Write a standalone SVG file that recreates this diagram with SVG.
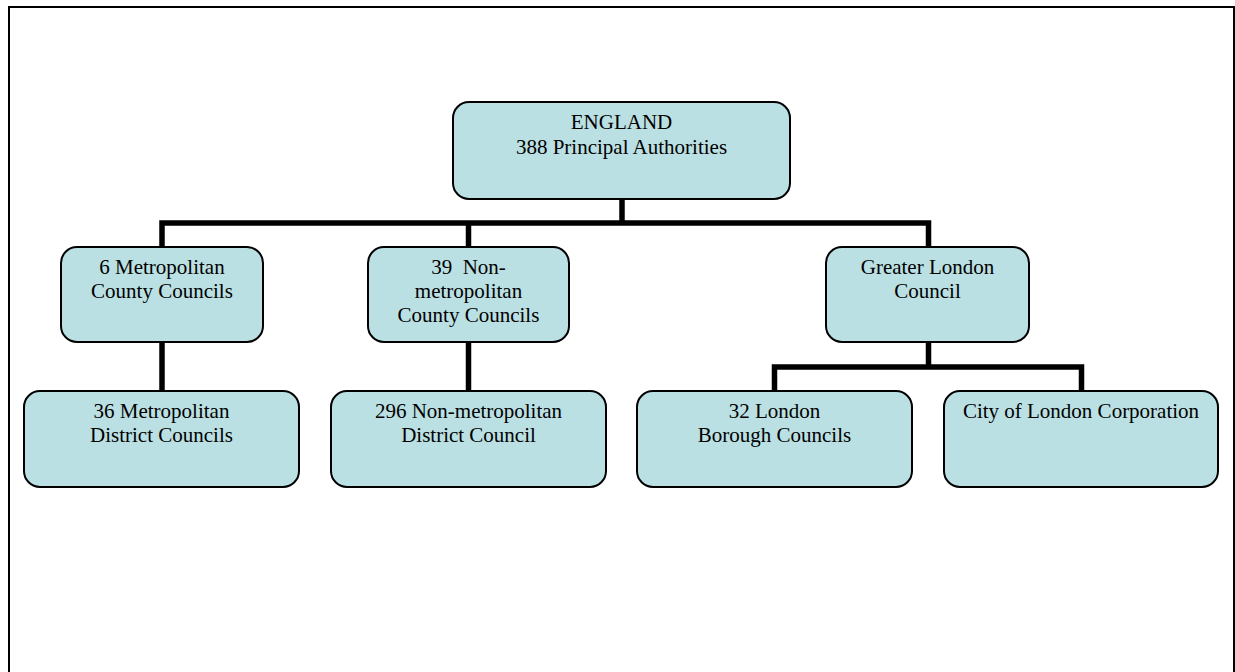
<svg xmlns="http://www.w3.org/2000/svg" width="1235" height="672" viewBox="0 0 1235 672">
<style>
.box{fill:#BBE0E3;stroke:#000;stroke-width:2}
.t{font-family:"Liberation Serif","Times New Roman",serif;font-size:21px;fill:#000;text-anchor:middle}
.c{fill:none;stroke:#000;stroke-width:5.5;stroke-linecap:butt;stroke-linejoin:miter}
</style>
<rect x="0" y="0" width="1235" height="672" fill="#fff"/>
<rect x="9" y="7" width="1225" height="680" fill="none" stroke="#000" stroke-width="2"/>
<g id="connectors">
<path class="c" d="M622 199V223"/>
<path class="c" d="M162 247V223H928.5V247"/>
<path class="c" d="M468.5 223V247"/>
<path class="c" d="M162 342V391"/>
<path class="c" d="M468.5 342V391"/>
<path class="c" d="M928.5 342V367"/>
<path class="c" d="M774.5 391V367H1081.5V391"/>
</g>
<g id="england">
<rect class="box" x="453" y="102" width="337" height="97" rx="16"/>
<text class="t" x="621.5" y="129">ENGLAND</text>
<text class="t" x="621.5" y="154">388 Principal Authorities</text>
</g>
<g id="metro-county">
<rect class="box" x="61" y="247" width="202" height="95" rx="16"/>
<text class="t" x="162" y="274">6 Metropolitan</text>
<text class="t" x="162" y="298">County Councils</text>
</g>
<g id="nonmetro-county">
<rect class="box" x="368" y="247" width="201" height="95" rx="16"/>
<text class="t" x="468.5" y="274" xml:space="preserve">39  Non-</text>
<text class="t" x="468.5" y="298">metropolitan</text>
<text class="t" x="468.5" y="322">County Councils</text>
</g>
<g id="greater-london">
<rect class="box" x="826" y="247" width="203" height="95" rx="16"/>
<text class="t" x="927.5" y="274">Greater London</text>
<text class="t" x="927.5" y="298">Council</text>
</g>
<g id="metro-district">
<rect class="box" x="24" y="391" width="275" height="96" rx="16"/>
<text class="t" x="161.5" y="418">36 Metropolitan</text>
<text class="t" x="161.5" y="442">District Councils</text>
</g>
<g id="nonmetro-district">
<rect class="box" x="331" y="391" width="275" height="96" rx="16"/>
<text class="t" x="468.5" y="418">296 Non-metropolitan</text>
<text class="t" x="468.5" y="442">District Council</text>
</g>
<g id="london-borough">
<rect class="box" x="637" y="391" width="275" height="96" rx="16"/>
<text class="t" x="774.5" y="418">32 London</text>
<text class="t" x="774.5" y="442">Borough Councils</text>
</g>
<g id="city-of-london">
<rect class="box" x="944" y="391" width="274" height="96" rx="16"/>
<text class="t" x="1081" y="418">City of London Corporation</text>
</g>
</svg>
